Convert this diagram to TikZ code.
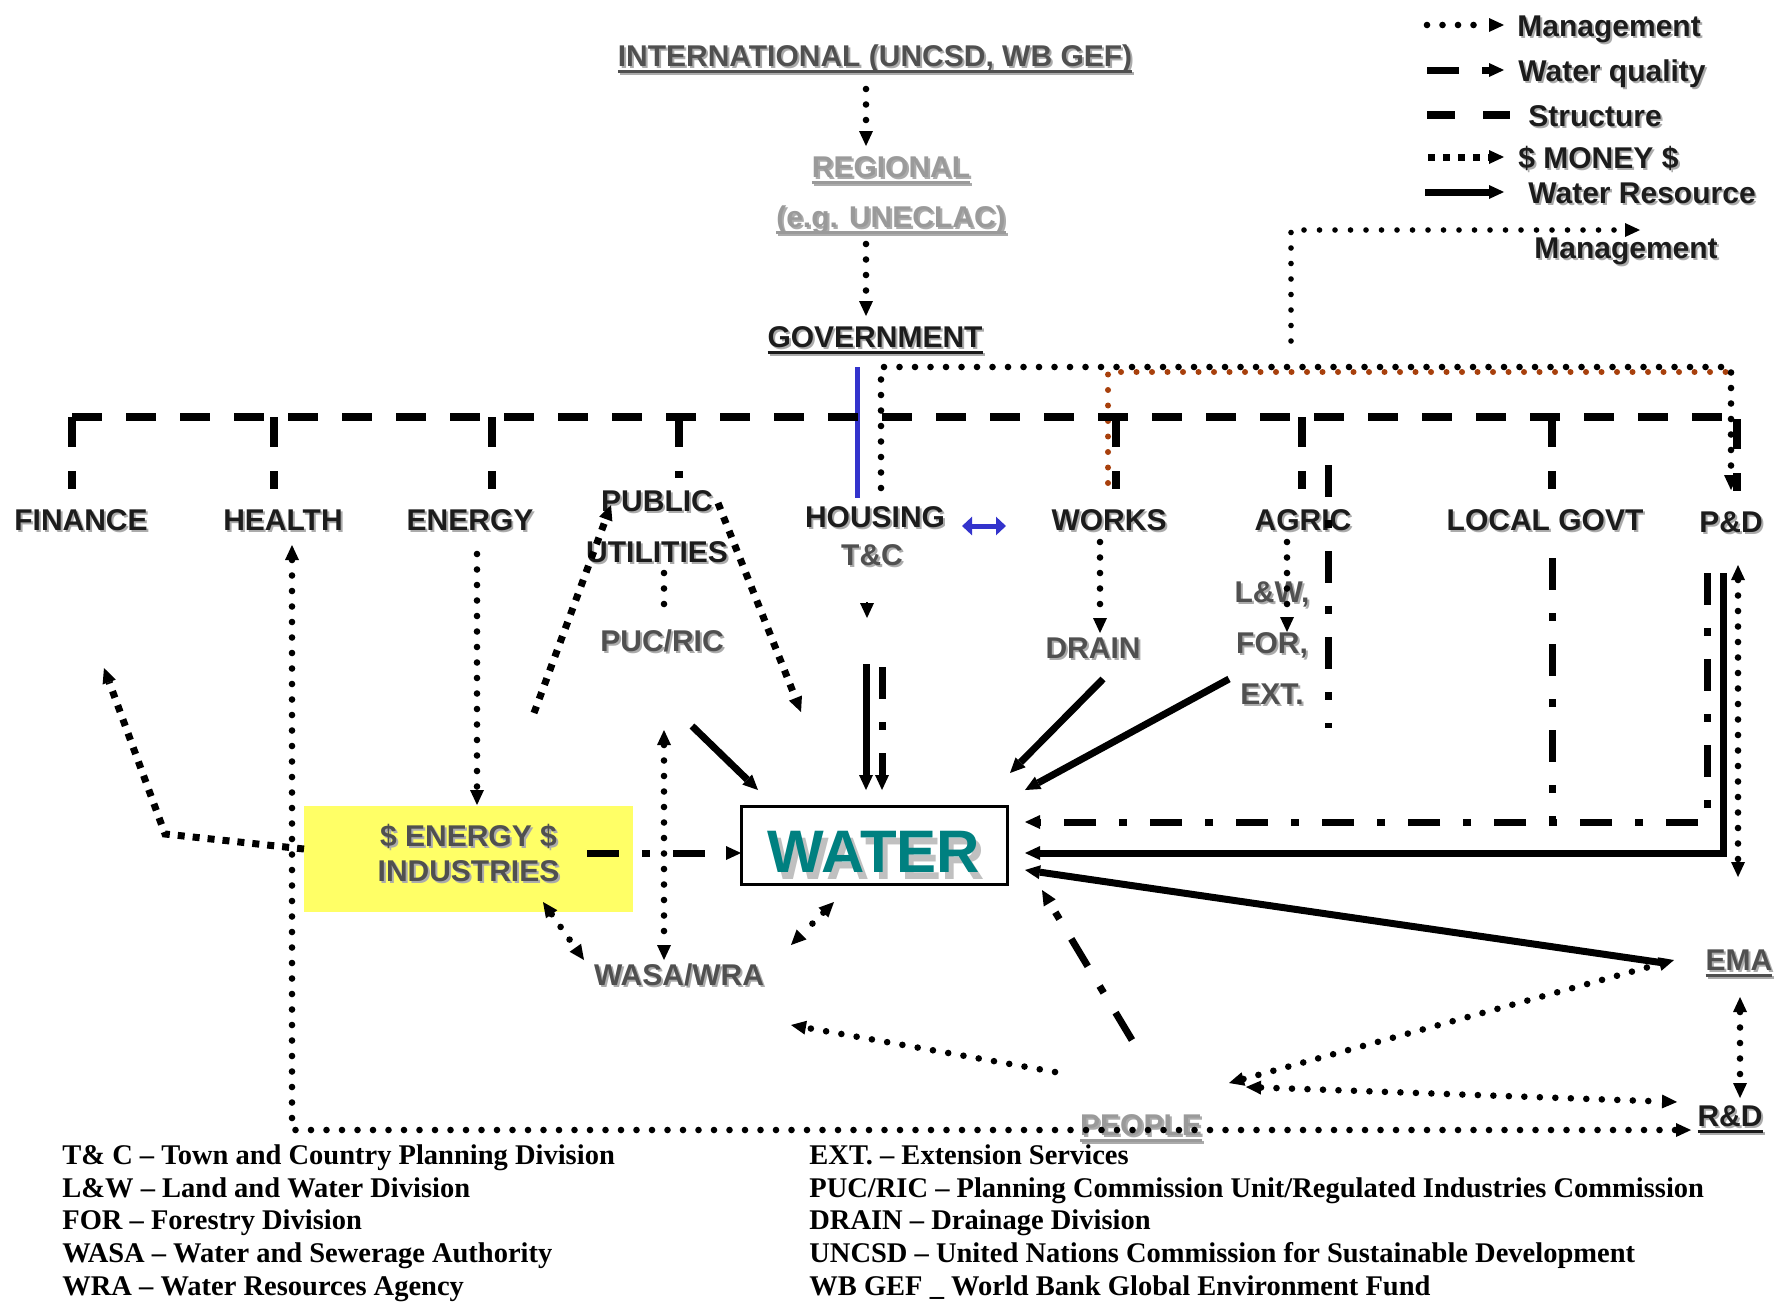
\documentclass[tikz,border=0pt]{standalone}
\usepackage{fontspec}
\setmainfont{Liberation Sans}
\newfontfamily\legserif{Liberation Serif}
\usepackage{xcolor}
\usepackage{tikz}
\usetikzlibrary{arrows.meta}

\definecolor{txtdark}{HTML}{1C1C1C}
\definecolor{txtmid}{HTML}{505050}
\definecolor{txtlight}{HTML}{9A9A9A}
\definecolor{shade}{HTML}{ABABAB}
\definecolor{watshade}{HTML}{C0C0C0}
\definecolor{yel}{HTML}{FFFF66}
\definecolor{blueline}{HTML}{3333CC}
\definecolor{brownline}{HTML}{A8400C}
\newcommand{\ulin}[1]{\sbox0{#1}\rlap{\rule[-3.5pt]{\wd0}{1.5pt}}\usebox0}
\newcommand{\sh}[1]{\rlap{\textcolor{shade}{\kern1pt\raisebox{-1pt}{#1}}}#1}

\begin{document}
\begin{tikzpicture}[x=0.5pt,y=-0.5pt,>={Triangle[length=7.5pt,width=7pt,line width=0pt]}]
\tikzstyle{lbl}=[font=\fontsize{15}{25.5}\selectfont\bfseries,text=txtdark,inner sep=0pt,text height=11pt,text depth=0pt]
\tikzstyle{lblmid}=[lbl,text=txtmid]
\tikzstyle{lbllight}=[lbl,text=txtlight]
\tikzstyle{multi}=[font=\fontsize{15}{25.5}\selectfont\bfseries,text=txtmid,inner sep=0pt,align=center]
\tikzstyle{mgmt}=[line width=3.3pt,dash pattern=on 0pt off 7.75pt,line cap=round]
\tikzstyle{money}=[line width=3.5pt,dash pattern=on 3.5pt off 4pt]
\tikzstyle{struct}=[line width=4pt,dash pattern=on 15pt off 12pt]
\tikzstyle{wq}=[line width=3.5pt,dash pattern=on 16pt off 11.5pt on 4pt off 11.5pt]
\tikzstyle{wr}=[line width=3.5pt]
\useasboundingbox (0,0) rectangle (1780,1301);
%niveles
\node[lblmid] (intl) at (875,55) {\sh{\ulin{INTERNATIONAL (UNCSD, WB GEF)}}};
\node[lbllight] (reg) at (891,166) {\sh{\ulin{REGIONAL}}};
\node[lbllight] (ecl) at (891,216) {\sh{\ulin{(e.g. UNECLAC)}}};
\node[lbl] (gov) at (875,336) {\sh{\ulin{GOVERNMENT}}};
%ministerios
\node[lbl] (fin) at (81,519) {\sh{FINANCE}};
\node[lbl] (hea) at (283,519) {\sh{HEALTH}};
\node[lbl] (ene) at (470,519) {\sh{ENERGY}};
\node[multi,text=txtdark] (pub) at (657,528) {\sh{PUBLIC}\\\sh{UTILITIES}};
\node[lbl] (hou) at (875,516) {\sh{HOUSING}};
\node[lblmid] (tc) at (872,554) {\sh{T\&C}};
\node[lbl] (wor) at (1109,519) {\sh{WORKS}};
\node[lbl] (agr) at (1303,519) {\sh{AGRIC}};
\node[lbl] (loc) at (1545,519) {\sh{LOCAL GOVT}};
\node[lbl] (pd) at (1731,521) {\sh{P\&D}};
%agencias
\node[lblmid] (puc) at (662,640) {\sh{PUC/RIC}};
\node[lblmid] (drn) at (1093,647) {\sh{DRAIN}};
\node[multi] (lfe) at (1272,644) {\sh{L\&W,}\\\sh{FOR,}\\\sh{EXT.}};
\node[fill=yel,minimum width=164.5pt,minimum height=53pt,inner sep=0pt,font=\fontsize{15}{17.5}\selectfont\bfseries,text=txtmid,align=center,text height=22pt,text depth=0pt] (ind) at (468.5,859) {\sh{\$ ENERGY \$}\\\sh{INDUSTRIES}};
\node[draw,line width=1.5pt,minimum width=133pt,minimum height=39pt,inner sep=0pt,font=\fontsize{30}{30}\selectfont\bfseries,text=teal,text height=27.5pt,text depth=0pt] (wat) at (874,845) {\rlap{\textcolor{watshade}{\kern2.5pt\raisebox{-3.5pt}{WATER}}}WATER};
\node[lblmid] (wasa) at (679,974) {\sh{WASA/WRA}};
\node[lblmid] (ema) at (1739,959) {\sh{\ulin{EMA}}};
\node[lbl] (rd) at (1730,1115) {\sh{\ulin{R\&D}}};
\node[lbllight] (peo) at (1141,1124) {\sh{\ulin{PEOPLE}}};
%leyenda
\node[lbl,anchor=west] (lg1) at (1517,25) {\sh{Management}};
\node[lbl,anchor=west] (lg2) at (1518,70) {\sh{Water quality}};
\node[lbl,anchor=west] (lg3) at (1528,115) {\sh{Structure}};
\node[lbl,anchor=west] (lg4) at (1518,157) {\sh{\$ MONEY \$}};
\node[lbl,anchor=west] (lg5) at (1528,192) {\sh{Water Resource}};
\node[lbl] (lg6) at (1626,247) {\sh{Management}};
\node[anchor=north west,inner sep=0pt,align=left,font=\legserif\bfseries\fontsize{14.25}{16.45}\selectfont] (abl) at (62,1144) {T\& C – Town and Country Planning Division\\L\&W – Land and Water Division\\FOR – Forestry Division\\WASA – Water and Sewerage Authority\\WRA – Water Resources Agency};
\node[anchor=north west,inner sep=0pt,align=left,font=\legserif\bfseries\fontsize{14.25}{16.45}\selectfont] (abr) at (809,1144) {EXT. – Extension Services\\PUC/RIC – Planning Commission Unit/Regulated Industries Commission\\DRAIN – Drainage Division\\UNCSD – United Nations Commission for Sustainable Development\\WB GEF \_ World Bank Global Environment Fund};
%conexiones de los niveles
\draw[mgmt,->] ([shift={(-9,34)}]intl.center) -- ([shift={(-25,-20)}]reg.center);
\draw[mgmt,->] ([shift={(-25,28)}]ecl.center) -- ([shift={(-9,-20)}]gov.center);
\draw[blueline,line width=2.5pt] ([shift={(-18,31)}]gov.center) -- ([shift={(-18,-18)}]hou.center);
\draw[mgmt,brownline,line width=3pt] ([shift={(-1,-36)}]wor.center) |- ([shift={(2,-149)}]pd.center);
\draw[mgmt,->] ([shift={(6,-28)}]hou.center) -- ++(0,-121) -| ([shift={(0,-31)}]pd.center);
\draw[blueline,line width=2.5pt,{Triangle[length=5pt,width=9pt]}-{Triangle[length=5pt,width=9pt]}] ([shift={(87,10)}]hou.center) -- ([shift={(-103,7)}]wor.center);
%estructura
\draw[struct] ([shift={(-9,-102)}]fin.center) -- ([shift={(6,-104)}]pd.center);
\foreach \n/\d in {fin/-9,hea/-9,ene/22,wor/7,agr/-1,loc/7,pd/6}
  \draw[struct] ([shift={(\d,-102)}]\n.center) -- ([shift={(\d,-30)}]\n.center);
\draw[struct] ([shift={(22,-111)}]pub.center) -- ([shift={(22,-50)}]pub.center);
%conexiones de los ministerios
\draw[mgmt,<->] ([shift={(9,26)}]hea.center) |- ([shift={(-39,15)}]rd.center);
\draw[mgmt,->] ([shift={(7,35)}]ene.center) -- ([shift={(8.5,-54)}]ind.center);
\draw[money,->] ([shift={(-164.5,-10)}]ind.center) -- ++(-139,-15) -- ([shift={(23,149)}]fin.center);
\draw[mgmt] ([shift={(7,45)}]pub.center) -- ([shift={(2,-33)}]puc.center);
\draw[money,->] ([shift={(-128,73)}]puc.center) -- ([shift={(-46,-23)}]pub.center);
\draw[money,->] ([shift={(61,-25)}]pub.center) -- ([shift={(-73,-133)}]wat.center);
\draw[wr,->] ([shift={(30,86)}]puc.center) -- ([shift={(-116,-55)}]wat.center);
\draw[mgmt,<->] ([shift={(2,90)}]puc.center) -- ([shift={(-15,-14)}]wasa.center);
\draw[mgmt,<->] ([shift={(74.5,43)}]ind.center) -- ([shift={(-95,-14)}]wasa.center);
\draw[mgmt,<->] ([shift={(-40,57)}]wat.center) -- ([shift={(112,-29)}]wasa.center);
\draw[mgmt,->] ([shift={(-86,-52)}]peo.center) -- ([shift={(112,51)}]wasa.center);
\draw[wq,->] ([shift={(118.5,-6)}]ind.center) -- ([shift={(-133,8)}]wat.center);
\draw[->,line width=1pt] ([shift={(-5,48)}]tc.center) -- ([shift={(-5,64)}]tc.center);
\draw[wr,->] ([shift={(-6,110)}]tc.center) -- ([shift={(-8,-55)}]wat.center);
\draw[wq,->] ([shift={(10,113)}]tc.center) -- ([shift={(8,-55)}]wat.center);
\draw[mgmt,->] ([shift={(-9,23)}]wor.center) -- ([shift={(7,-14)}]drn.center);
\draw[wr,->] ([shift={(10,32)}]drn.center) -- ([shift={(136,-72)}]wat.center);
\draw[mgmt,->] ([shift={(-16,23)}]agr.center) -- ([shift={(15,-12)}]lfe.center);
\draw[wr,->] ([shift={(-43,35)}]lfe.center) -- ([shift={(151,-55)}]wat.center);
\draw[wq] ([shift={(25,-54)}]agr.center) -- ([shift={(56,84)}]lfe.center);
\draw[wq] ([shift={(7,39)}]loc.center) -- ([shift={(7,303)}]loc.center);
\draw[wq,->] ([shift={(-24,52)}]pd.center) |- ([shift={(151,-23)}]wat.center);
\draw[wr,->] ([shift={(-8,52)}]pd.center) |- ([shift={(151,8)}]wat.center);
\draw[mgmt,<->] ([shift={(7,44)}]pd.center) -- ([shift={(-1,-82)}]ema.center);
%conexiones de la gente
\draw[wr,->] ([shift={(-75,4)}]ema.center) -- ([shift={(151,25)}]wat.center);
\draw[mgmt,<->] ([shift={(88,-41)}]peo.center) -- ([shift={(-65,1)}]ema.center);
\draw[mgmt,<->] ([shift={(105,-37)}]peo.center) -- ([shift={(-53,-13)}]rd.center);
\draw[mgmt,<->] ([shift={(1,38)}]ema.center) -- ([shift={(10,-17)}]rd.center);
\draw[wq,->] ([shift={(-9,-84)}]peo.center) -- ([shift={(168,45)}]wat.center);
%lineas de la leyenda
\draw[mgmt,->] ([shift={(-90,0)}]lg1.west) -- ([shift={(-13,0)}]lg1.west);
\draw[wq,->] ([shift={(-91,0)}]lg2.west) -- ([shift={(-14,0)}]lg2.west);
\draw[struct,dash pattern=on 14pt off 14pt] ([shift={(-101,0)}]lg3.west) -- ([shift={(-18,0)}]lg3.west);
\draw[money,->] ([shift={(-90,0)}]lg4.west) -- ([shift={(-14,0)}]lg4.west);
\draw[wr,->] ([shift={(-103,0)}]lg5.west) -- ([shift={(-24,0)}]lg5.west);
\draw[mgmt,line width=2.8pt,->] ([shift={(-335,94)}]lg6.center) |- ([shift={(14,-17)}]lg6.center);
\end{tikzpicture}
\end{document}
